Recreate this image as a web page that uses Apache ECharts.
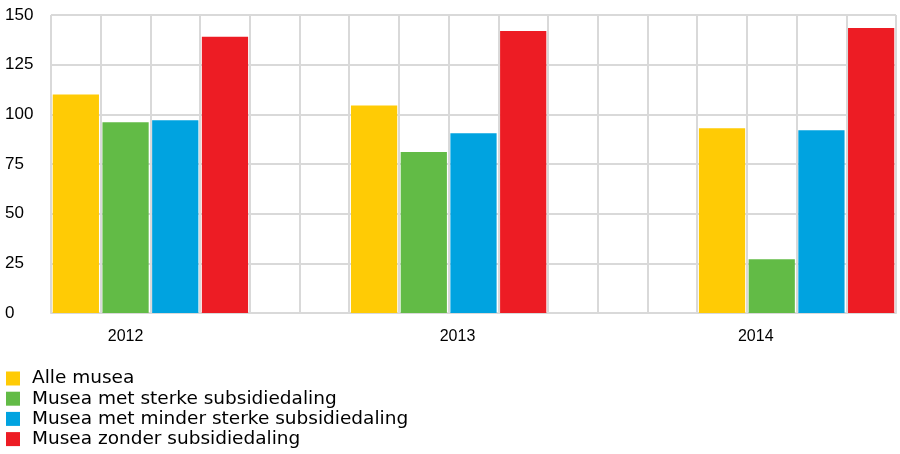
<!DOCTYPE html>
<html>
<head>
<meta charset="utf-8">
<script src="https://cdn.jsdelivr.net/npm/echarts@6/dist/echarts.min.js"></script>
<style>
  html, body { margin: 0; padding: 0; background: #fff; }
  #chart { width: 900px; height: 454px; }
</style>
</head>
<body>
<div id="chart"></div>
<script>
// jaren en waarden per groep musea
var years = ['2012', '2013', '2014'];
var alleMusea = [110, 104.5, 93];
var sterkeDaling = [96, 81, 27];
var mindereDaling = [97, 90.5, 92];
var zonderDaling = [139, 142, 143.5];
var seriesNames = [
  'Alle musea',
  'Musea met sterke subsidiedaling',
  'Musea met minder sterke subsidiedaling',
  'Musea zonder subsidiedaling'
];
var yTicks = [0, 25, 50, 75, 100, 125, 150];

// plaats van de eerste balk per jaar in de 17 kolommen
var slotCount = 17;
var startSlot = [0, 6, 13];
var labelSlot = [1, 8, 14];
var colors = ['#ffcb05', '#62bb46', '#00a3e0', '#ed1c24'];

var cats = [];
for (var i = 0; i < slotCount; i++) cats.push('c' + i);

function buildData(values, offset) {
  var arr = [];
  for (var i = 0; i < slotCount; i++) arr.push(null);
  for (var j = 0; j < values.length; j++) arr[startSlot[j] + offset] = values[j];
  return arr;
}

var allValues = [alleMusea, sterkeDaling, mindereDaling, zonderDaling];
var series = [];
for (var s = 0; s < allValues.length; s++) {
  series.push({
    name: seriesNames[s],
    type: 'bar',
    data: buildData(allValues[s], s),
    barWidth: '93%',
    barGap: '-100%',
    itemStyle: { color: colors[s] }
  });
}

var myChart = echarts.init(document.getElementById('chart'));
myChart.setOption({
  animation: false,
  textStyle: { fontFamily: 'Liberation Sans, Arial, sans-serif', color: '#000' },
  grid: { left: 51, right: 4, top: 15, bottom: 141 },
  legend: {
    orient: 'vertical',
    left: 6,
    top: 369,
    height: 85,
    padding: 0,
    itemWidth: 14,
    itemHeight: 14,
    itemGap: 1.2,
    icon: 'rect',
    textStyle: {
      fontFamily: 'DejaVu Sans, sans-serif',
      fontSize: 18.5,
      lineHeight: 18,
      color: '#000',
      padding: [0, 0, 0, 7]
    },
    data: seriesNames
  },
  xAxis: {
    type: 'category',
    data: cats,
    axisLine: { lineStyle: { color: '#d9d9d9', width: 2 } },
    axisTick: { show: false },
    splitLine: { show: true, interval: 0, lineStyle: { color: '#d9d9d9', width: 2 } },
    axisLabel: {
      interval: 0,
      margin: 16,
      fontSize: 16,
      color: '#000',
      formatter: function (v, idx) {
        var k = labelSlot.indexOf(idx);
        if (k < 0) return '';
        if (k === 0) return years[k];
        return '{s|' + years[k] + '}';
      },
      rich: { s: { fontSize: 16, color: '#000', padding: [0, 32, 0, 0] } }
    }
  },
  yAxis: {
    type: 'value',
    min: 0,
    max: 150,
    interval: 25,
    axisLine: { show: false },
    axisTick: { show: false },
    splitLine: { lineStyle: { color: '#d9d9d9', width: 2 } },
    axisLabel: {
      fontSize: 17,
      color: '#000',
      align: 'left',
      margin: 46,
      formatter: function (v) { return yTicks.indexOf(v) >= 0 ? String(v) : ''; }
    }
  },
  series: series
});
</script>
</body>
</html>
